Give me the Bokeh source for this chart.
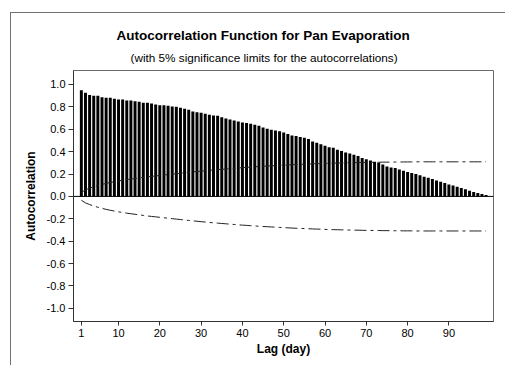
from bokeh.plotting import figure
from bokeh.models import Title, FixedTicker, Range1d, Span, NumeralTickFormatter
from bokeh.embed import file_html
from bokeh.resources import INLINE

lags = list(range(1, 100))
acf = [0.949, 0.926, 0.905, 0.899, 0.899, 0.887, 0.881, 0.881, 0.872, 0.866,
       0.866, 0.857, 0.857, 0.851, 0.845, 0.836, 0.836, 0.830, 0.821, 0.815,
       0.815, 0.810, 0.804, 0.801, 0.792, 0.783, 0.774, 0.759, 0.753, 0.747,
       0.738, 0.729, 0.723, 0.720, 0.708, 0.696, 0.688, 0.679, 0.670, 0.660,
       0.655, 0.649, 0.640, 0.631, 0.615, 0.604, 0.595, 0.589, 0.583, 0.571,
       0.557, 0.545, 0.539, 0.530, 0.524, 0.512, 0.491, 0.479, 0.467, 0.452,
       0.440, 0.434, 0.417, 0.405, 0.393, 0.384, 0.372, 0.360, 0.342, 0.333,
       0.321, 0.310, 0.301, 0.286, 0.268, 0.259, 0.253, 0.241, 0.229, 0.217,
       0.208, 0.199, 0.188, 0.176, 0.167, 0.155, 0.143, 0.131, 0.119, 0.107,
       0.098, 0.086, 0.074, 0.063, 0.050, 0.039, 0.030, 0.021, 0.012]
limit = [0.035, 0.058, 0.073, 0.086, 0.097, 0.107, 0.116, 0.124, 0.131, 0.138,
         0.144, 0.150, 0.155, 0.160, 0.165, 0.170, 0.175, 0.179, 0.183, 0.187,
         0.191, 0.195, 0.199, 0.203, 0.207, 0.211, 0.215, 0.219, 0.222, 0.226,
         0.229, 0.233, 0.236, 0.239, 0.242, 0.245, 0.248, 0.251, 0.254, 0.257,
         0.259, 0.262, 0.264, 0.267, 0.269, 0.271, 0.273, 0.275, 0.277, 0.279,
         0.281, 0.283, 0.285, 0.286, 0.288, 0.289, 0.291, 0.292, 0.293, 0.295,
         0.296, 0.297, 0.298, 0.299, 0.300, 0.301, 0.302, 0.302, 0.303, 0.304,
         0.304, 0.305, 0.305, 0.306, 0.306, 0.307, 0.307, 0.307, 0.308, 0.308,
         0.308, 0.309, 0.309, 0.309, 0.309, 0.309, 0.309, 0.309, 0.309, 0.309,
         0.309, 0.309, 0.309, 0.309, 0.309, 0.309, 0.309, 0.309, 0.309]
upper = limit
lower = [-v for v in limit]
x_ticks = [1, 10, 20, 30, 40, 50, 60, 70, 80, 90]
y_ticks = [-1.0, -0.8, -0.6, -0.4, -0.2, 0.0, 0.2, 0.4, 0.6, 0.8, 1.0]
title_text = "Autocorrelation Function for Pan Evaporation"
subtitle_text = "(with 5% significance limits for the autocorrelations)"

FONT = "Liberation Sans"

p = figure(width=505, height=365, output_backend="svg", toolbar_location=None,
           x_range=Range1d(-0.9, 100.8), y_range=Range1d(-1.118, 1.125),
           min_border_left=73, min_border_right=12, min_border_top=70,
           min_border_bottom=44)
# outer gray frame (left and top edges) drawn behind the transparent canvas border
p.styles = {
    "background": ("linear-gradient(#707070, #707070) 10px 12px / 100% 1px no-repeat, "
                   "linear-gradient(#707070, #707070) 10px 12px / 1px 100% no-repeat, white"),
}

p.background_fill_color = "white"
p.border_fill_color = None
p.outline_line_color = "#6a6a6a"
p.xgrid.visible = False
p.ygrid.visible = False

p.vbar(x=lags, top=acf, bottom=0, width=0.72, fill_color="black", line_color=None)
p.add_layout(Span(location=0, dimension="width", line_color="black", line_width=1))
p.line(lags, upper, line_color="#222222", line_width=1, line_dash="12 4 3 4")
p.line(lags, lower, line_color="#222222", line_width=1, line_dash="12 4 3 4")

p.xaxis.ticker = FixedTicker(ticks=x_ticks)
p.yaxis.ticker = FixedTicker(ticks=y_ticks)
p.yaxis.formatter = NumeralTickFormatter(format="0.0")
for ax in (p.xaxis, p.yaxis):
    ax.axis_line_color = "#333333"
    ax.major_tick_line_color = "#333333"
    ax.minor_tick_line_color = None
    ax.major_tick_in = 0
    ax.major_label_text_font = FONT
    ax.major_label_text_font_size = "11px"
    ax.major_label_text_color = "black"
    ax.axis_label_text_font = FONT
    ax.axis_label_text_font_size = "12px"
    ax.axis_label_text_font_style = "bold"
    ax.axis_label_text_color = "black"
p.yaxis.major_tick_out = 5
p.xaxis.major_tick_out = 4
p.yaxis.major_label_standoff = 3
p.xaxis.major_label_standoff = 3
p.yaxis.axis_label = "Autocorrelation"
p.xaxis.axis_label = "Lag (day)"
p.yaxis.axis_label_standoff = 6
p.xaxis.axis_label_standoff = 2

p.add_layout(Title(text=subtitle_text, align="left", offset=57,
                   text_font=FONT, text_font_size="11.75px", text_font_style="normal",
                   text_color="black", standoff=14), "above")
p.add_layout(Title(text=title_text, align="left", offset=43,
                   text_font=FONT, text_font_size="13.5px", text_font_style="bold",
                   text_color="black", standoff=-2), "above")

open("out.html", "w").write(file_html(p, INLINE))
